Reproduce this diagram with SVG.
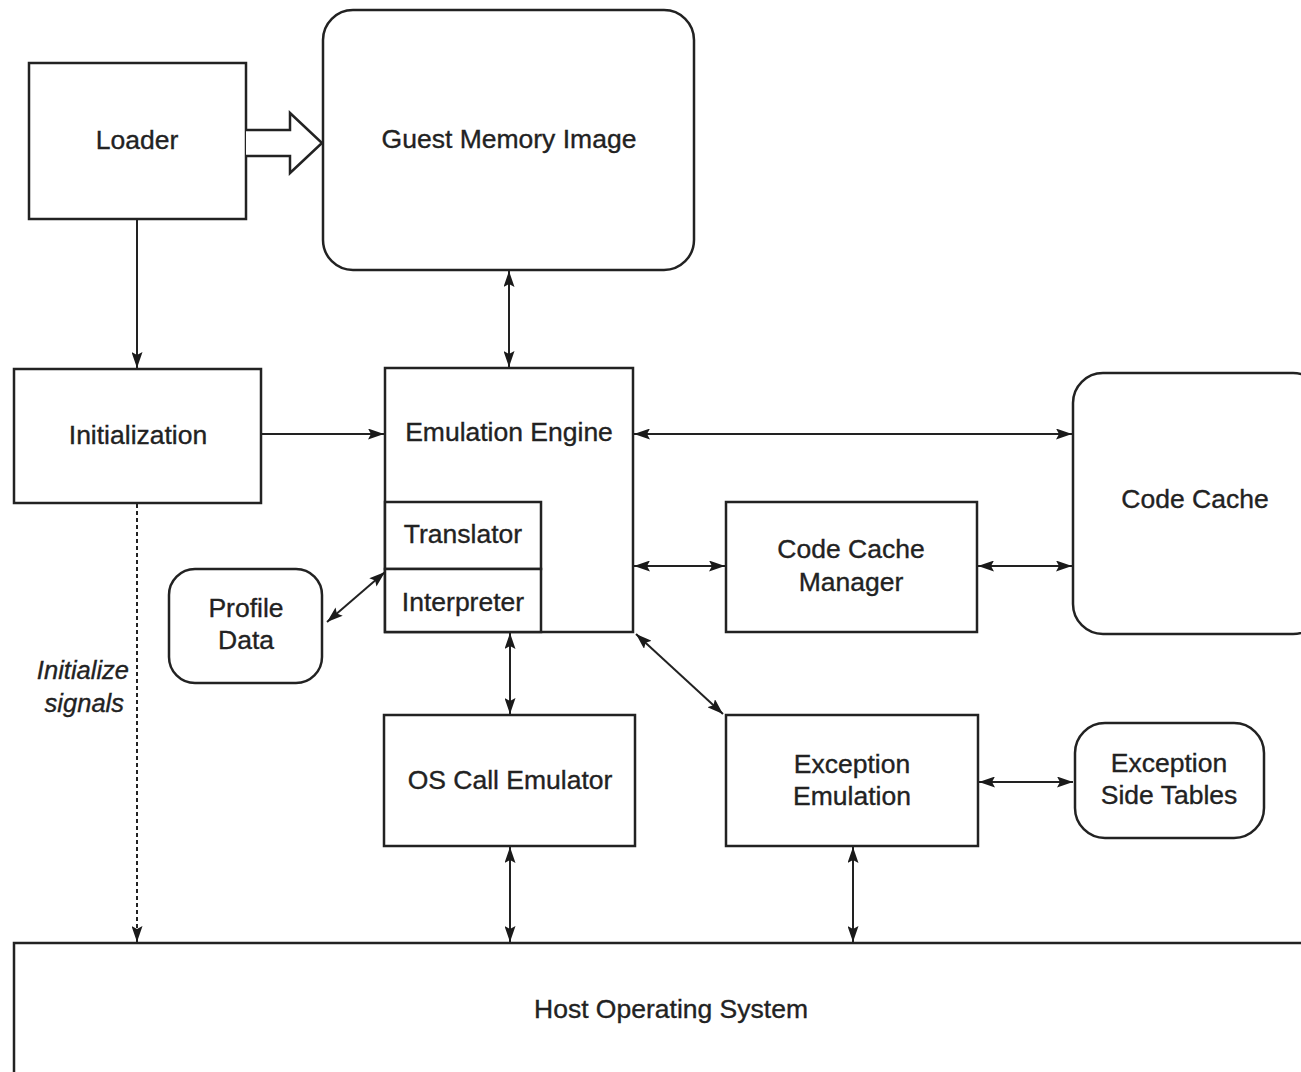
<svg xmlns="http://www.w3.org/2000/svg" width="1301" height="1072" viewBox="0 0 1301 1072">
<defs>
<marker id="ah" viewBox="0 0 16 11" refX="16" refY="5.5" markerWidth="16" markerHeight="11" markerUnits="userSpaceOnUse" orient="auto-start-reverse">
<path d="M0,0 L16,5.5 L0,11 L3,5.5 Z" fill="#1a1a1a"/>
</marker>
</defs>
<style>
.box{fill:#fff;stroke:#222;stroke-width:2.5}
.t{font-family:"Liberation Sans",Arial,sans-serif;font-size:26.5px;fill:#222;stroke:#222;stroke-width:0.35;text-anchor:middle}
.c{stroke:#222;stroke-width:2;fill:none}
.b{marker-start:url(#ah);marker-end:url(#ah)}
.e{marker-end:url(#ah)}
.i{font-style:italic;text-anchor:end;font-size:25.5px}
</style>
<rect width="1301" height="1072" fill="#fff"/>
<g id="host">
<rect class="box" x="14" y="943" width="1310" height="150"/>
<text class="t" x="671" y="1018">Host Operating System</text>
</g>
<g id="loader">
<rect class="box" x="29" y="63" width="217" height="156"/>
<text class="t" x="137" y="149">Loader</text>
</g>
<g id="guest-memory">
<rect class="box" x="323" y="10" width="371" height="260" rx="30"/>
<text class="t" x="509" y="148">Guest Memory Image</text>
</g>
<g id="initialization">
<rect class="box" x="14" y="369" width="247" height="134"/>
<text class="t" x="138" y="444">Initialization</text>
</g>
<g id="emulation-engine">
<rect class="box" x="385" y="368" width="248" height="264"/>
<text class="t" x="509" y="441">Emulation Engine</text>
</g>
<g id="translator">
<rect class="box" x="385" y="502" width="156" height="67"/>
<text class="t" x="463" y="543">Translator</text>
</g>
<g id="interpreter">
<rect class="box" x="385" y="569" width="156" height="63"/>
<text class="t" x="463" y="611">Interpreter</text>
</g>
<g id="code-cache">
<rect class="box" x="1073" y="373" width="250" height="261" rx="30"/>
<text class="t" x="1195" y="508">Code Cache</text>
</g>
<g id="code-cache-manager">
<rect class="box" x="726" y="502" width="251" height="130"/>
<text class="t" x="851" y="558">Code Cache</text>
<text class="t" x="851" y="591">Manager</text>
</g>
<g id="profile-data">
<rect class="box" x="169" y="569" width="153" height="114" rx="26"/>
<text class="t" x="246" y="617">Profile</text>
<text class="t" x="246" y="649">Data</text>
</g>
<g id="os-call-emulator">
<rect class="box" x="384" y="715" width="251" height="131"/>
<text class="t" x="510" y="789">OS Call Emulator</text>
</g>
<g id="exception-emulation">
<rect class="box" x="726" y="715" width="252" height="131"/>
<text class="t" x="852" y="773">Exception</text>
<text class="t" x="852" y="805">Emulation</text>
</g>
<g id="exception-side-tables">
<rect class="box" x="1075" y="723" width="189" height="115" rx="30"/>
<text class="t" x="1169" y="772">Exception</text>
<text class="t" x="1169" y="804">Side Tables</text>
</g>
<g id="connectors">
<path class="box" d="M246,130 L290,130 L290,113 L322,143 L290,173 L290,156 L246,156"/>
<line class="c e" x1="137" y1="219" x2="137" y2="368"/>
<line class="c e" x1="261" y1="434" x2="384" y2="434"/>
<line class="c b" x1="509" y1="271" x2="509" y2="367"/>
<line class="c b" x1="634" y1="434" x2="1072" y2="434"/>
<line class="c b" x1="634" y1="566" x2="725" y2="566"/>
<line class="c b" x1="978" y1="566" x2="1072" y2="566"/>
<line class="c b" x1="385" y1="572" x2="327" y2="622"/>
<line class="c b" x1="510" y1="633" x2="510" y2="714"/>
<line class="c b" x1="636" y1="634" x2="723" y2="714"/>
<line class="c b" x1="979" y1="782" x2="1073" y2="782"/>
<line class="c b" x1="510" y1="847" x2="510" y2="942"/>
<line class="c b" x1="853" y1="847" x2="853" y2="942"/>
<line class="c e" x1="137" y1="504" x2="137" y2="942" stroke-dasharray="4,3"/>
</g>
<g id="label-initialize-signals">
<text class="t i" x="129" y="679">Initialize</text>
<text class="t i" x="124" y="712">signals</text>
</g>
</svg>
